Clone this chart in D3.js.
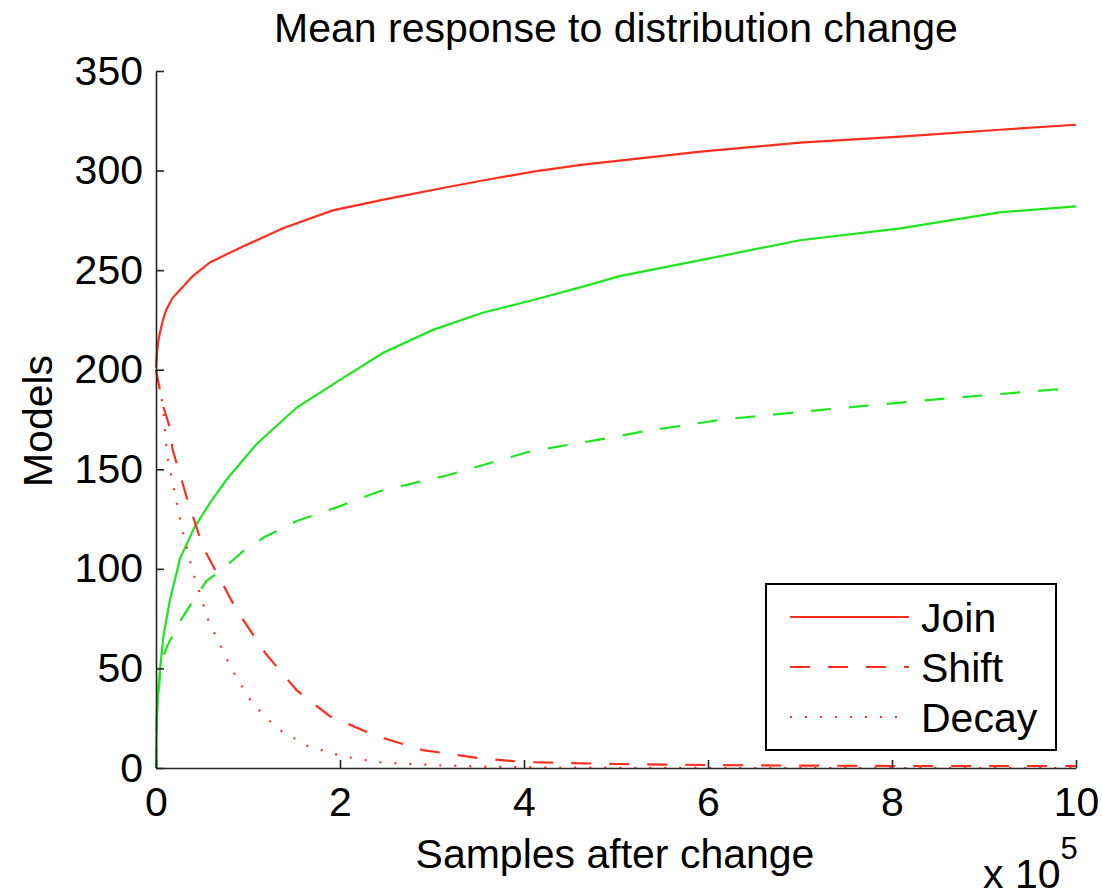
<!DOCTYPE html>
<html lang="en">
<head>
    <meta charset="utf-8">
    <script src="https://d3js.org/d3.v7.min.js"></script>
    <style>
        body { margin: 0; background: white; }
        text { font-family: 'Liberation Sans', Arial, Helvetica, sans-serif; fill: black; }
    </style>
</head>
<body>
<script>
    // x values in units of 1e5 samples
    var joinRed = [[0,201],[0.01,208],[0.02,213],[0.04,218],[0.07,224],[0.11,230],[0.18,236],[0.26,240],[0.4,247],[0.59,254],[0.95,262],[1.38,271],[1.92,280],[2.54,286],[3.09,291],[3.55,295],[4.1,299.5],[4.64,303],[5.04,305],[5.92,309.5],[7.0,314],[8.09,317],[9.17,320.5],[10,323]];
    var shiftRed = [[0,200],[0.07,183],[0.15,171],[0.18,160],[0.34,135],[0.51,111],[0.88,79],[1.2,57],[1.53,39],[1.89,26],[2.4,16],[2.9,9],[3.5,5],[4,3],[5,2],[6,1.5],[7,1.2],[8,1],[9,1],[10,1]];
    var decayRed = [[0,200],[0.04,191],[0.08,180],[0.12,157],[0.29,119],[0.39,100],[0.57,74],[0.83,49],[1.04,33],[1.31,20],[1.65,11],[2.02,6],[2.4,3],[3.0,1.5],[3.6,0.6],[4.5,0.2],[6,0],[8,0],[10,0]];
    var joinGreen = [[0,0],[0.002,9],[0.01,25],[0.03,43],[0.08,66],[0.15,84],[0.26,105],[0.42,121],[0.6,134],[0.77,145],[1.1,163],[1.53,181],[1.97,194],[2.47,208.5],[3.01,220],[3.55,228.6],[4.1,235],[4.64,241.7],[5.04,247],[5.92,255],[7.0,265],[8.09,271],[9.17,279],[10,282]];
    var shiftGreen = [[0,0],[0.01,30],[0.06,54],[0.13,62],[0.28,75],[0.39,83],[0.55,94],[0.73,100],[0.95,109],[1.18,116],[1.53,124],[1.97,131],[2.43,139],[3.17,147],[4.07,159],[4.83,165],[5.3,169],[6.16,175],[7.5,181],[8.45,185],[9.75,190],[9.86,190]];

    var xTicks = [0, 2, 4, 6, 8, 10];
    var yTicks = [0, 50, 100, 150, 200, 250, 300, 350];
    var legendNames = ['Join', 'Shift', 'Decay'];

    var width = 1102, height = 892;
    var plotLeft = 156, plotRight = 1076, plotTop = 71, plotBottom = 768;
    var red = '#ff2e1f', green = '#1ee61e';
    var dashes = {solid: null, dash: '20,18', dot: '2,13'};

    var svg = d3.select('body').append('svg').attr('width', width).attr('height', height);

    var x = d3.scaleLinear().domain([0, 10]).range([plotLeft, plotRight]);
    var y = d3.scaleLinear().domain([0, 350]).range([plotBottom, plotTop]);

    var line = d3.line().x(function(d) { return x(d[0]); }).y(function(d) { return y(d[1]); });

    var series = [
        {data: joinGreen, color: green, dash: dashes.solid},
        {data: shiftGreen, color: green, dash: dashes.dash},
        {data: joinRed, color: red, dash: dashes.solid},
        {data: shiftRed, color: red, dash: dashes.dash},
        {data: decayRed, color: red, dash: dashes.dot}
    ];

    svg.selectAll('path.series')
        .data(series)
        .join('path')
        .attr('class', 'series')
        .attr('d', function(d) { return line(d.data); })
        .attr('fill', 'none')
        .attr('stroke', function(d) { return d.color; })
        .attr('stroke-width', 2.2)
        .attr('stroke-dasharray', function(d) { return d.dash; });

    // axes, ticks pointing inward like matlab
    var xAxis = svg.append('g')
        .attr('transform', 'translate(0,' + plotBottom + ')')
        .call(d3.axisBottom(x).tickValues(xTicks).tickFormat(d3.format('d')).tickSizeInner(-8).tickSizeOuter(0).tickPadding(19));
    var yAxis = svg.append('g')
        .attr('transform', 'translate(' + plotLeft + ',0)')
        .call(d3.axisLeft(y).tickValues(yTicks).tickSizeInner(-8).tickSizeOuter(0).tickPadding(13));

    [xAxis, yAxis].forEach(function(g) {
        g.attr('font-size', 41).attr('font-family', "'Liberation Sans', Arial, sans-serif");
        g.select('.domain').attr('stroke', '#222').attr('stroke-width', 1.6);
        g.selectAll('.tick line').attr('stroke', '#222').attr('stroke-width', 1.6);
        g.selectAll('.tick text').attr('fill', 'black');
    });

    // titles
    svg.append('text')
        .attr('x', 616).attr('y', 42)
        .attr('text-anchor', 'middle')
        .attr('font-size', 41)
        .text('Mean response to distribution change');

    svg.append('text')
        .attr('x', 615).attr('y', 868)
        .attr('text-anchor', 'middle')
        .attr('font-size', 41)
        .text('Samples after change');

    svg.append('text')
        .attr('transform', 'translate(52,421) rotate(-90)')
        .attr('text-anchor', 'middle')
        .attr('font-size', 41)
        .text('Models');

    var mult = svg.append('text')
        .attr('x', 983).attr('y', 888)
        .attr('font-size', 41);
    mult.append('tspan').text('x 10');
    mult.append('tspan').attr('dy', -29).attr('font-size', 31).text('5');

    // legend
    var legend = svg.append('g');
    legend.append('rect')
        .attr('x', 766).attr('y', 584)
        .attr('width', 290).attr('height', 166)
        .attr('fill', 'white')
        .attr('stroke', 'black')
        .attr('stroke-width', 2);

    var legendDash = [dashes.solid, dashes.dash, dashes.dot];
    var rowY = d3.scalePoint().domain(legendNames).range([617, 717]);

    var rows = legend.selectAll('g.row')
        .data(legendNames)
        .join('g')
        .attr('class', 'row')
        .attr('transform', function(d) { return 'translate(0,' + rowY(d) + ')'; });

    rows.append('line')
        .attr('x1', 790).attr('x2', 909)
        .attr('stroke', red)
        .attr('stroke-width', 2.2)
        .attr('stroke-dasharray', function(d, i) { return legendDash[i]; });

    rows.append('text')
        .attr('x', 921)
        .attr('dy', '0.36em')
        .attr('font-size', 41)
        .text(function(d) { return d; });
</script>
</body>
</html>
